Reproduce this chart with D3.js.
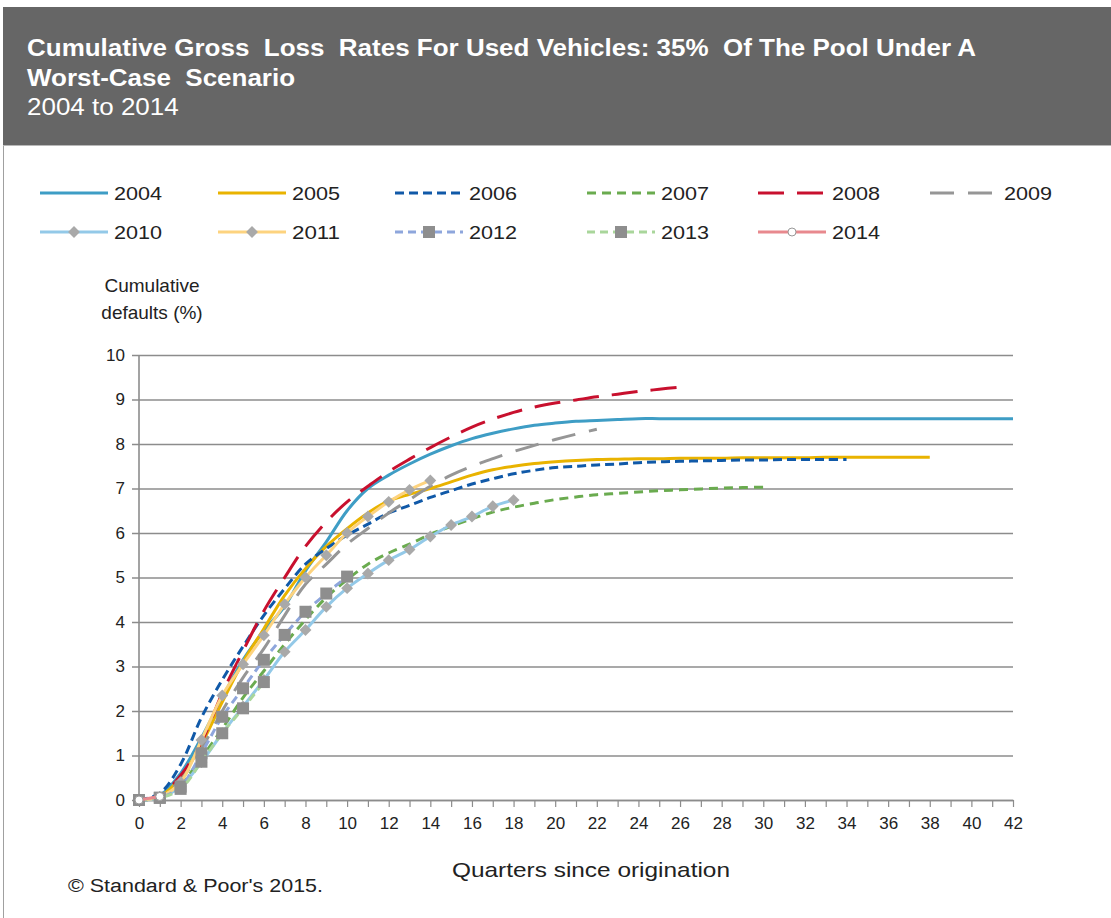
<!DOCTYPE html>
<html>
<head>
<meta charset="utf-8">
<script src="https://cdn.jsdelivr.net/npm/d3@7"></script>
<style>
  body { margin: 0; background: #fff; }
  svg { display: block; font-family: "Liberation Sans", Arial, sans-serif; }
</style>
</head>
<body>
<svg width="1111" height="918"></svg>
<script>
// tick labels
var xTicks = d3.range(0, 43, 2);
var yTicks = d3.range(0, 11);

// cumulative defaults (%) by quarter since origination
var v2004 = [0, 0.1, 0.6, 1.4, 2.3, 3.15, 3.8, 4.35, 5.15, 5.8, 6.5, 7.0, 7.3, 7.55, 7.77, 7.96, 8.12, 8.24, 8.34, 8.42, 8.47, 8.51, 8.53, 8.55, 8.57, 8.57, 8.57, 8.57, 8.57, 8.57, 8.57, 8.57, 8.57, 8.57, 8.57, 8.57, 8.57, 8.57, 8.57, 8.57, 8.57, 8.57, 8.57];
var v2005 = [0, 0.08, 0.5, 1.25, 2.2, 3.1, 3.85, 4.6, 5.2, 5.7, 6.1, 6.45, 6.72, 6.87, 7.0, 7.15, 7.3, 7.42, 7.5, 7.56, 7.6, 7.63, 7.65, 7.66, 7.67, 7.67, 7.68, 7.68, 7.68, 7.69, 7.69, 7.69, 7.69, 7.7, 7.7, 7.7, 7.7, 7.7, 7.7];
var v2006 = [0, 0.15, 0.8, 1.85, 2.7, 3.45, 4.15, 4.75, 5.3, 5.65, 5.95, 6.2, 6.45, 6.62, 6.8, 6.95, 7.1, 7.22, 7.33, 7.41, 7.47, 7.5, 7.53, 7.55, 7.58, 7.6, 7.61, 7.62, 7.63, 7.64, 7.64, 7.65, 7.65, 7.65, 7.65];
var v2007 = [0, 0.05, 0.35, 0.95, 1.6, 2.3, 2.9, 3.5, 4.05, 4.55, 4.95, 5.3, 5.55, 5.75, 5.97, 6.15, 6.32, 6.47, 6.58, 6.67, 6.75, 6.81, 6.86, 6.89, 6.92, 6.95, 6.97, 6.99, 7.01, 7.02, 7.03];
var v2008 = [0, 0.1, 0.55, 1.3, 2.4, 3.35, 4.25, 5.0, 5.7, 6.25, 6.7, 7.05, 7.38, 7.66, 7.92, 8.16, 8.38, 8.56, 8.71, 8.83, 8.92, 8.99, 9.06, 9.12, 9.18, 9.23, 9.28];
var v2009 = [0, 0.08, 0.45, 1.15, 2.0, 2.75, 3.4, 4.15, 4.85, 5.3, 5.75, 6.1, 6.45, 6.75, 7.05, 7.3, 7.5, 7.67, 7.83, 7.97, 8.1, 8.22, 8.33];
var v2010 = [0, 0.05, 0.3, 0.85, 1.5, 2.1, 2.7, 3.33, 3.82, 4.34, 4.76, 5.09, 5.39, 5.63, 5.92, 6.18, 6.37, 6.6, 6.74];
var v2011 = [0, 0.07, 0.4, 1.35, 2.35, 3.05, 3.7, 4.4, 5.0, 5.5, 6.0, 6.37, 6.7, 6.97, 7.18];
var v2012 = [0, 0.05, 0.3, 1.05, 1.87, 2.51, 3.15, 3.71, 4.23, 4.64, 5.02];
var v2013 = [0, 0.05, 0.25, 0.86, 1.5, 2.06, 2.65];
var v2014 = [0, 0.08];

var series = [
    { name: "2004", values: v2004, color: "#3e9dc5", dash: null,    marker: null },
    { name: "2005", values: v2005, color: "#e9b300", dash: null,    marker: null },
    { name: "2006", values: v2006, color: "#1059a8", dash: "9,5",   marker: null },
    { name: "2007", values: v2007, color: "#6aab4f", dash: "9,6",   marker: null },
    { name: "2008", values: v2008, color: "#c8102e", dash: "26,13", marker: null },
    { name: "2009", values: v2009, color: "#969696", dash: "24,14", marker: null },
    { name: "2010", values: v2010, color: "#93c9e8", dash: null,    marker: "diamond" },
    { name: "2011", values: v2011, color: "#fdd37f", dash: null,    marker: "diamond" },
    { name: "2012", values: v2012, color: "#8ea6dc", dash: "8,5",   marker: "square" },
    { name: "2013", values: v2013, color: "#a9d69b", dash: "8,5",   marker: "square" },
    { name: "2014", values: v2014, color: "#e8898e", dash: null,    marker: "circle" }
];

var svg = d3.select("svg");

// header box
svg.append("rect").attr("x", 3).attr("y", 7).attr("width", 1108).attr("height", 138).attr("fill", "#666666");
svg.append("line").attr("x1", 3.5).attr("x2", 3.5).attr("y1", 145).attr("y2", 918).attr("stroke", "#a0a0a0").attr("stroke-width", 1);
svg.append("line").attr("x1", 3).attr("x2", 1111).attr("y1", 145.5).attr("y2", 145.5).attr("stroke", "#b8b8b8").attr("stroke-width", 1);

var title = svg.append("g").attr("transform", "translate(27,0) scale(1.13,1)")
    .append("text").attr("fill", "#fff").attr("font-size", 23).style("white-space", "pre");
title.append("tspan").attr("x", 0).attr("y", 56).attr("font-weight", "bold").text("Cumulative Gross  Loss  Rates For Used Vehicles: 35%  Of The Pool Under A");
title.append("tspan").attr("x", 0).attr("y", 86).attr("font-weight", "bold").text("Worst-Case  Scenario");
title.append("tspan").attr("x", 0).attr("y", 115).text("2004 to 2014");

var x = d3.scaleLinear().domain([0, 42]).range([139, 1013]);
var y = d3.scaleLinear().domain([0, 10]).range([800, 355]);

// grid
svg.append("g")
    .attr("transform", "translate(139,0)")
    .call(d3.axisLeft(y).tickValues(yTicks).tickSize(-874).tickSizeOuter(0).tickPadding(14))
    .call(function(g) {
        g.select(".domain").remove();
        g.selectAll(".tick line").attr("stroke", "#8c8c8c").attr("stroke-width", 1.6).attr("x1", -7);
        g.selectAll(".tick text").attr("font-size", 17).attr("fill", "#222").attr("font-family", "Liberation Sans, Arial, sans-serif");
    });

// left axis line
svg.append("line").attr("x1", x(0)).attr("x2", x(0)).attr("y1", y(10)).attr("y2", y(0)).attr("stroke", "#8c8c8c").attr("stroke-width", 1.6);

// bottom axis
var xAxis = svg.append("g")
    .attr("transform", "translate(0,800)")
    .call(d3.axisBottom(x).tickValues(d3.range(0, 43)).tickSize(7).tickSizeOuter(0).tickPadding(10)
        .tickFormat(function(d) { return xTicks.indexOf(d) >= 0 ? d : ""; }));
xAxis.select(".domain").attr("stroke", "#8c8c8c").attr("stroke-width", 1.6);
xAxis.selectAll(".tick line").attr("stroke", "#8c8c8c").attr("stroke-width", 1.2);
xAxis.selectAll(".tick text").attr("font-size", 17).attr("fill", "#222").attr("font-family", "Liberation Sans, Arial, sans-serif");

// axis titles
svg.append("text").attr("x", 152).attr("y", 292).attr("text-anchor", "middle").attr("font-size", 19).attr("fill", "#222").text("Cumulative");
svg.append("text").attr("x", 152).attr("y", 319).attr("text-anchor", "middle").attr("font-size", 19).attr("fill", "#222").text("defaults (%)");
svg.append("text").attr("x", 452).attr("y", 877).attr("font-size", 21).attr("fill", "#222")
    .attr("textLength", 278).attr("lengthAdjust", "spacingAndGlyphs").text("Quarters since origination");
svg.append("text").attr("x", 68).attr("y", 892).attr("font-size", 18).attr("fill", "#222")
    .attr("textLength", 255).attr("lengthAdjust", "spacingAndGlyphs").text("\u00a9 Standard & Poor's 2015.");

var line = d3.line()
    .x(function(d, i) { return x(i); })
    .y(function(d) { return y(d); })
    .curve(d3.curveCatmullRom.alpha(0.5));

function drawMarker(sel, kind) {
    if (kind === "diamond") {
        sel.append("rect").attr("x", -4.2).attr("y", -4.2).attr("width", 8.4).attr("height", 8.4)
            .attr("transform", "rotate(45)").attr("fill", "#a9a9a9");
    } else if (kind === "square") {
        sel.append("rect").attr("x", -6).attr("y", -6).attr("width", 12).attr("height", 12).attr("fill", "#8e8e8e");
    } else if (kind === "circle") {
        sel.append("circle").attr("r", 4).attr("fill", "#fff").attr("stroke", "#999").attr("stroke-width", 1);
    }
}

var plot = svg.append("g");
series.forEach(function(s) {
    plot.append("path")
        .datum(s.values)
        .attr("d", line)
        .attr("fill", "none")
        .attr("stroke", s.color)
        .attr("stroke-width", 3)
        .attr("stroke-dasharray", s.dash);
    if (s.marker) {
        plot.selectAll(null)
            .data(s.values)
            .join("g")
            .attr("transform", function(d, i) { return "translate(" + x(i) + "," + y(d) + ")"; })
            .each(function() { drawMarker(d3.select(this), s.marker); });
    }
});

// legend
var legCols = [40, 218, 395, 587, 758, 930];
var legRows = [193, 232];
var legend = svg.append("g");
series.forEach(function(s, i) {
    var lx = legCols[i % 6], ly = legRows[Math.floor(i / 6)];
    var g = legend.append("g").attr("transform", "translate(" + lx + "," + ly + ")");
    g.append("line").attr("x1", 0).attr("x2", 68).attr("y1", 0).attr("y2", 0)
        .attr("stroke", s.color).attr("stroke-width", 3).attr("stroke-dasharray", s.dash);
    if (s.marker) {
        var m = g.append("g").attr("transform", "translate(34,0)");
        drawMarker(m, s.marker);
    }
    g.append("text").attr("x", 74).attr("y", 7).attr("font-size", 19).attr("fill", "#222")
        .attr("textLength", 48).attr("lengthAdjust", "spacingAndGlyphs").text(s.name);
});
</script>
</body>
</html>
